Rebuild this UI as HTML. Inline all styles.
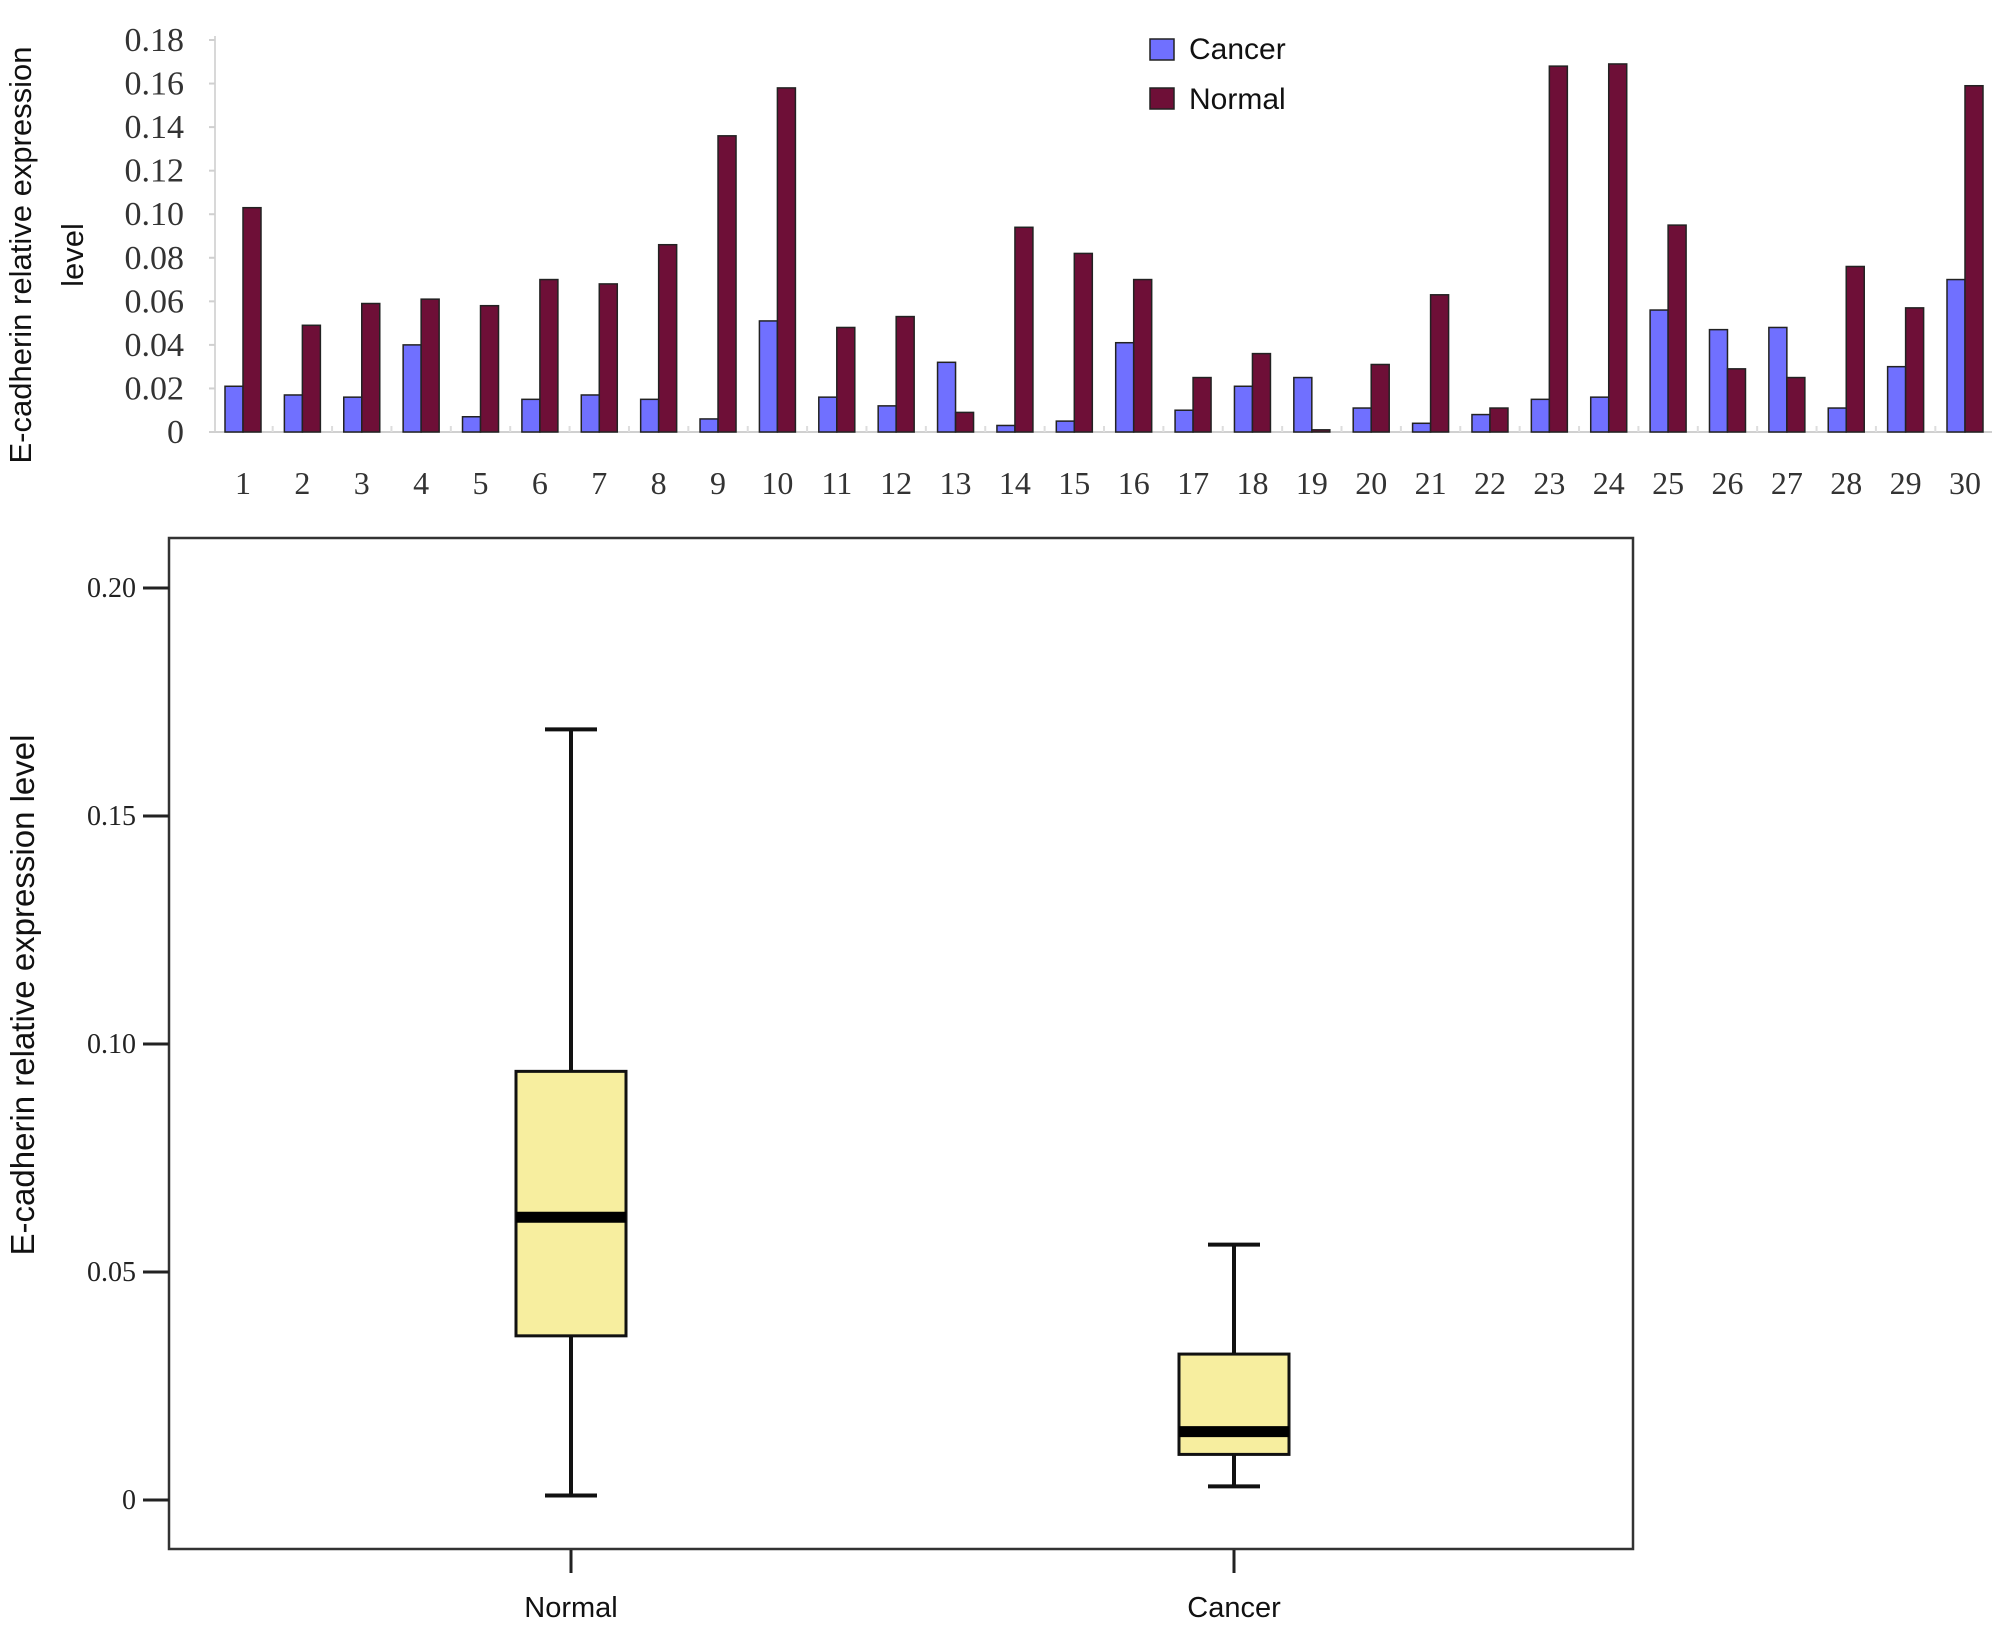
<!DOCTYPE html>
<html><head><meta charset="utf-8"><style>
html,body{margin:0;padding:0;background:#fff;}
svg{display:block;}
</style></head><body>
<svg id="chart" width="2008" height="1635" xmlns="http://www.w3.org/2000/svg">
<g id="topChart"></g>
<g id="bottomChart"></g>
</svg>
<script>
const categories = ["1","2","3","4","5","6","7","8","9","10","11","12","13","14","15","16","17","18","19","20","21","22","23","24","25","26","27","28","29","30"];
const cancerValues = [0.021,0.017,0.016,0.040,0.007,0.015,0.017,0.015,0.006,0.051,0.016,0.012,0.032,0.003,0.005,0.041,0.010,0.021,0.025,0.011,0.004,0.008,0.015,0.016,0.056,0.047,0.048,0.011,0.030,0.070];
const normalValues = [0.103,0.049,0.059,0.061,0.058,0.070,0.068,0.086,0.136,0.158,0.048,0.053,0.009,0.094,0.082,0.070,0.025,0.036,0.001,0.031,0.063,0.011,0.168,0.169,0.095,0.029,0.025,0.076,0.057,0.159];
const topTickValues = [0,0.02,0.04,0.06,0.08,0.10,0.12,0.14,0.16,0.18];
const topTickLabels = ["0","0.02","0.04","0.06","0.08","0.10","0.12","0.14","0.16","0.18"];
const boxGroups = ["Normal","Cancer"];
const boxMin = [0.001,0.003];
const boxQ1 = [0.036,0.010];
const boxMedian = [0.062,0.015];
const boxQ3 = [0.094,0.032];
const boxMax = [0.169,0.056];
const boxTickValues = [0,0.05,0.10,0.15,0.20];
const boxTickLabels = ["0","0.05","0.10","0.15","0.20"];

const NS="http://www.w3.org/2000/svg";
function mk(parent,tag,attrs,text){const e=document.createElementNS(NS,tag);for(const k in attrs)e.setAttribute(k,attrs[k]);if(text!==undefined)e.textContent=text;parent.appendChild(e);return e;}

// ---- top bar chart ----
const topG=document.getElementById('topChart');
const y0=432, yTop=40, vTop=0.18;
function yT(v){return y0-(v/vTop)*(y0-yTop);}
const x1=243, x30=1965;
function xT(i){return x1+i*(x30-x1)/(categories.length-1);}
let e;
e=mk(topG,'line',{x1:215,y1:36,x2:215,y2:y0,stroke:'#d8d8d8','stroke-width':2});


e=mk(topG,'line',{x1:215,y1:y0,x2:1992,y2:y0,stroke:'#d0d0d0','stroke-width':2});


topTickValues.forEach((v,i)=>{
  mk(topG,'line',{x1:209,y1:yT(v),x2:215,y2:yT(v),stroke:'#d0d0d0','stroke-width':2});
  e=mk(topG,'text',{x:184,y:yT(v)+11,'text-anchor':'end','font-family':'Liberation Serif, serif','font-size':34,fill:'#333'},topTickLabels[i]);
  
  
});
const bw=18;
categories.forEach((c,i)=>{
  const cx=xT(i);
  if(i>0) mk(topG,'line',{x1:cx-29.7,y1:y0-6,x2:cx-29.7,y2:y0,stroke:'#ddd','stroke-width':2});
  e=mk(topG,'rect',{x:cx-bw,y:yT(cancerValues[i]),width:bw,height:y0-yT(cancerValues[i]),fill:'#7070ff',stroke:'#222','stroke-width':1.5});
  
  
  e=mk(topG,'rect',{x:cx,y:yT(normalValues[i]),width:bw,height:y0-yT(normalValues[i]),fill:'#6e0f37',stroke:'#222','stroke-width':1.5});
  
  
  e=mk(topG,'text',{x:cx,y:494,'text-anchor':'middle','font-family':'Liberation Serif, serif','font-size':32,fill:'#333'},c);
  
  
});
e=mk(topG,'text',{transform:'translate(31,255) rotate(-90)','text-anchor':'middle','font-family':'Liberation Sans, sans-serif','font-size':31,fill:'#111'},'E-cadherin relative expression');


e=mk(topG,'text',{transform:'translate(83,255) rotate(-90)','text-anchor':'middle','font-family':'Liberation Sans, sans-serif','font-size':31,fill:'#111'},'level');


// legend
e=mk(topG,'rect',{x:1150,y:39,width:24,height:21,fill:'#7070ff',stroke:'#222','stroke-width':1.5});


e=mk(topG,'text',{x:1189,y:59,'font-family':'Liberation Sans, sans-serif','font-size':30,fill:'#111'},'Cancer');


e=mk(topG,'rect',{x:1150,y:88,width:24,height:21,fill:'#6e0f37',stroke:'#222','stroke-width':1.5});


e=mk(topG,'text',{x:1189,y:109,'font-family':'Liberation Sans, sans-serif','font-size':30,fill:'#111'},'Normal');



// ---- bottom box plot ----
const botG=document.getElementById('bottomChart');
const b0=1500, b20=588;
function yB(v){return b0-(v/0.20)*(b0-b20);}
const gx=[571,1234];
e=mk(botG,'rect',{x:169,y:538,width:1464,height:1011,fill:'none',stroke:'#333','stroke-width':2.5});


boxTickValues.forEach((v,i)=>{
  mk(botG,'line',{x1:143,y1:yB(v),x2:169,y2:yB(v),stroke:'#222','stroke-width':3});
  e=mk(botG,'text',{x:136,y:yB(v)+9,'text-anchor':'end','font-family':'Liberation Serif, serif','font-size':28,fill:'#222'},boxTickLabels[i]);
  
  
});
boxGroups.forEach((g,i)=>{
  const cx=gx[i], hw=55, cw=26;
  mk(botG,'line',{x1:cx,y1:1550,x2:cx,y2:1573,stroke:'#222','stroke-width':3});
  e=mk(botG,'text',{x:cx,y:1617,'text-anchor':'middle','font-family':'Liberation Sans, sans-serif','font-size':29,fill:'#111'},g);
  
  
  e=mk(botG,'line',{x1:cx,y1:yB(boxMax[i]),x2:cx,y2:yB(boxMin[i]),stroke:'#111','stroke-width':4});
  
  
  mk(botG,'line',{x1:cx-cw,y1:yB(boxMax[i]),x2:cx+cw,y2:yB(boxMax[i]),stroke:'#111','stroke-width':4});
  mk(botG,'line',{x1:cx-cw,y1:yB(boxMin[i]),x2:cx+cw,y2:yB(boxMin[i]),stroke:'#111','stroke-width':4});
  e=mk(botG,'rect',{x:cx-hw,y:yB(boxQ3[i]),width:2*hw,height:yB(boxQ1[i])-yB(boxQ3[i]),fill:'#f7ee9f',stroke:'#111','stroke-width':3});
  
  
  e=mk(botG,'line',{x1:cx-hw,y1:yB(boxMedian[i]),x2:cx+hw,y2:yB(boxMedian[i]),stroke:'#000','stroke-width':11});
  
  
});
e=mk(botG,'text',{transform:'translate(34,995) rotate(-90)','text-anchor':'middle','font-family':'Liberation Sans, sans-serif','font-size':33,fill:'#111'},'E-cadherin relative expression level');


</script>
</body></html>
